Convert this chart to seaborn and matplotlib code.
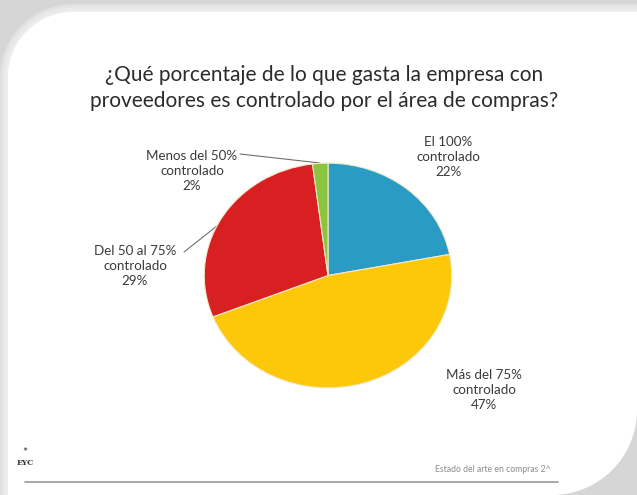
import numpy as np
import matplotlib
matplotlib.use("Agg")
import matplotlib.pyplot as plt
from matplotlib.path import Path
from matplotlib.patches import PathPatch
import seaborn as sns

# Survey shares, clockwise from the top
categories = ["El 100%\ncontrolado", "Más del 75%\ncontrolado",
              "Del 50 al 75%\ncontrolado", "Menos del 50%\ncontrolado"]
shares = [22, 47, 29, 2]
slice_colors = ["#2a9cc4", "#fdc80a", "#d81f22", "#8cc43f"]

title_lines = ["¿Qué porcentaje de lo que gasta la empresa con",
               "proveedores es controlado por el área de compras?"]
footer_text = "Estado del arte en compras 2^"
logo_text = "EYC"

sns.set_theme(style="white")
plt.rcParams["font.family"] = ["Lato", "DejaVu Sans"]

W, H = 637, 495
fig = plt.figure(figsize=(W / 100, H / 100), dpi=100)
fig.patch.set_facecolor("#d6d6d6")

# Slide background in pixel coordinates
bg = fig.add_axes([0, 0, 1, 1])
bg.set_xlim(0, W)
bg.set_ylim(H, 0)
bg.axis("off")


def slide_path(x0, y0, r1, r2):
    k = 0.5523
    verts = [
        (x0, H + 20), (x0, y0 + r1),
        (x0, y0 + r1 * (1 - k)), (x0 + r1 * (1 - k), y0), (x0 + r1, y0),
        (W + 20, y0), (W + 20, H - r2 - 10), (W, H - r2),
        (W, H - r2 * (1 - k)), (W - r2 * (1 - k), H), (W - r2, H),
        (x0, H + 20), (x0, H + 20),
    ]
    codes = [Path.MOVETO, Path.LINETO,
             Path.CURVE4, Path.CURVE4, Path.CURVE4,
             Path.LINETO, Path.LINETO, Path.LINETO,
             Path.CURVE4, Path.CURVE4, Path.CURVE4,
             Path.LINETO, Path.CLOSEPOLY]
    return Path(verts, codes)


# soft shading around the slide
for i in range(4):
    off = 8 - 2 * i
    bg.add_patch(PathPatch(slide_path(8 - off, 12 - off, 65 + off, 85 + off),
                           facecolor="#f4f4f4", edgecolor="none", alpha=0.35))
bg.add_patch(PathPatch(slide_path(8, 12, 65, 85), facecolor="white", edgecolor="none"))

# Title
for i, line in enumerate(title_lines):
    bg.text(324, 75 + 26 * i, line, ha="center", va="center",
            fontsize=15, color="#2b2b2b")

# Footer
bg.plot([25, 558], [482, 482], color="#9a9a9a", lw=1.2)
bg.text(551, 470, footer_text, ha="right", va="center", fontsize=6.2, color="#8c8c8c")
bg.text(25, 463, logo_text, ha="center", va="center", fontsize=5.5,
        fontweight="bold", family="DejaVu Serif", color="#333333")
bg.text(25, 453, "*", ha="center", va="center", fontsize=9, color="#3a3a3a")

# Pie (drawn as an ellipse to give the tilted look)
left, right, top, bottom = 203, 453, 162, 389
ax = fig.add_axes([left / W, (H - bottom) / H, (right - left) / W, (bottom - top) / H])
ax.pie(shares, colors=slice_colors, startangle=90, counterclock=False, radius=1,
       wedgeprops=dict(edgecolor="#f2e9c9", linewidth=0.8))
ax.set_xlim(-1.01, 1.01)
ax.set_ylim(-1.01, 1.01)
ax.set_aspect("auto")
ax.axis("off")

# Labels with values from the shares
label_pos = [(448, 157), (484, 390), (135, 266), (192, 171)]
for (x, y), cat, val in zip(label_pos, categories, shares):
    bg.text(x, y, f"{cat}\n{val}%", ha="center", va="center", fontsize=9.6,
            color="#3a3a3a", linespacing=1.3)

# Leader lines for the small labels
bg.plot([240, 320], [154, 163], color="#707070", lw=0.8)
bg.plot([184, 222], [252, 222], color="#707070", lw=0.8)

fig.savefig("out.png", dpi=100, facecolor=fig.get_facecolor())
